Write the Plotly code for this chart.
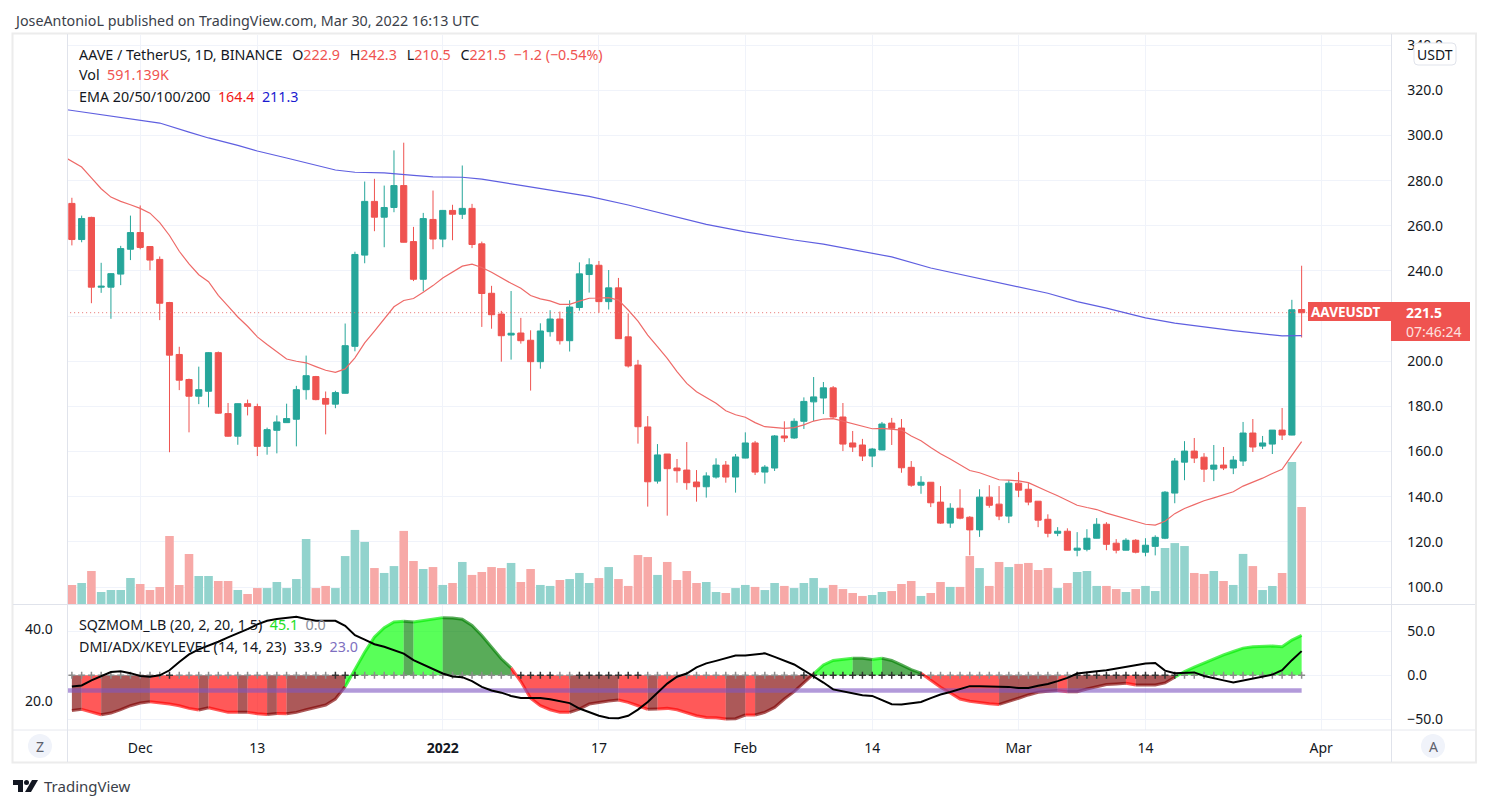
import pandas as pd
import plotly.graph_objects as go

start_date = "2021-11-24"
opens = [269.9,253.9,263.7,232.8,232.8,238.6,249.6,257,250.8,245.1,226,203,191.9,184.5,186.7,203.8,176.8,166.8,181.2,179.9,162.3,169.4,172.8,174.3,187.4,193.2,183.5,181,185.8,206.6,247,270.8,263.8,268.1,277.8,253,236.3,262.8,254.1,266.8,265.1,267.7,252,
230.1,220.9,211.6,212.5,209.3,199.8,213.1,218.7,209.1,223.8,238.4,242.5,226.4,232.5,210.8,198.3,170.9,146.9,158.9,152.7,151.8,146.5,144.4,148.7,154,148.7,157.1,163.8,150.9,152.7,166.9,166,173.4,182,183.7,188.2,175.3,163.8,162.9,158,160.7,
172.6,170.4,153,145.1,146.4,137.6,128.3,134.9,130.9,125.3,139.8,136.7,131.4,146,143.3,138,130,123.8,124.7,116.3,116.7,121.6,127.8,119.4,116.3,120.7,115.4,118,121.6,141.6,155.3,160.2,157.5,152.2,154,152.7,155.8,168.2,162.4,163.3,169.5,167.3,222.9]
highs = [272.4,264.5,264,243.6,239,251.1,264.5,269,251,246.4,226.3,206.4,192.3,197.6,204,204.3,181.5,181.3,183,181.2,170.6,176,181.2,189.1,202.5,193.5,186.6,186.9,216.7,248.5,279.6,280.8,277.8,293.4,296.8,259.5,265.7,275.6,267,269.3,286.7,269.7,253,
233.4,222.3,231.1,219.2,213.7,216.8,222.6,222,227,243.8,245.6,244.4,240.4,236.9,221.2,200.6,175.7,163.3,158.9,156.7,164.2,151.8,150.8,157,155.8,158.9,168.5,164.7,154,167.3,173.4,174.7,184,193,190.8,189,181.5,169.1,165.6,161.6,173.1,
174.9,174.4,155.8,149.1,146.5,144.7,137.1,143.3,131.4,143.3,145.1,144.7,147.3,150.9,146,138,132.2,126.5,126,124.3,125.6,130.5,128.7,121.2,121.6,121.2,121.6,122.9,142.5,157.1,164.6,166,159.3,162.9,162,158,173.1,174.4,166.9,169.5,179.3,227.2,242.3]
lows = [251.3,252.7,225.7,230.3,218.8,233.7,244.8,249.6,240.3,218.2,159.7,187.2,168.5,181,179.6,176.8,166.6,163,176,158,158.6,159.2,172.7,162.3,183,182.7,167.6,179.2,185.7,204.4,243.4,257.6,250.5,266,252.6,235.5,231,249.6,250.5,253.6,263,250.1,215.2,
214.4,199.8,200.7,207.8,187,196.7,210.9,207.4,204.3,222.4,230.4,221.5,222.9,209.9,197.2,163.5,135.6,145.8,131.6,146.2,143.1,137.8,139.6,148,146.2,141.8,157,149.6,145.8,151.4,164.2,165.6,170,173.5,176.6,174.9,160.2,159.8,155.8,153.1,160.6,
162.9,150.6,144.4,141.3,135.4,128,126.2,130,114,122.2,135.1,129.6,128.3,139.8,136.2,126.5,122,122.5,116.2,113.6,115.8,121.5,116.3,114.9,116.2,114.9,113.6,114,121.2,137.1,147.3,154.9,146.5,146.9,151.8,150,153.6,159.8,161.1,158.9,165.1,167.2,210.5]
closes = [253.9,263.2,232.8,233.2,238.8,249.9,257,250.4,244.8,225.7,202.7,191.6,184.5,187.4,203.8,177,166.8,181.2,180,162.3,169.7,173.1,174.6,187.4,193.6,183,181,186.1,206.9,247.3,270.8,263.8,268.1,277.8,252.7,236.3,263.2,254.1,266.8,265.1,267.7,251.7,230,
220.6,211.3,212.4,209.1,199.8,213.4,218.7,209.1,224,238.7,242.7,226.4,232.5,210,197.9,171,146.6,158.5,152.4,151.5,146.2,144.4,149.2,154,148.7,157.6,163.8,150.9,153.1,166.9,166,173.4,182.2,184.2,188.2,175.3,163.3,162,158,161.1,172.2,
170.3,152.8,145.1,146.4,137.3,128.3,134.9,130.5,125.3,139.8,136.2,131.4,146,142.9,137.6,129.6,123.8,124.7,116.3,117.2,121.6,127.8,118.9,116.3,120.7,115.4,118.5,122,142,155.8,160.2,157.1,152.2,154,152.7,156.2,168.2,162,163.8,169.5,167.3,222.8,221.5]
volume_k = [116,128,201,73,85,85,158,122,85,104,414,116,305,171,171,140,140,85,61,97,97,134,97,152,396,97,110,97,292,451,378,219,189,231,445,262,213,225,116,128,256,177,
195,225,219,250,134,213,116,110,146,152,189,128,158,225,152,110,298,286,177,256,146,201,128,134,73,67,97,116,104,85,128,110,97,128,158,97,116,91,67,49,55,73,
79,122,140,49,67,134,104,104,292,219,110,256,225,244,250,207,219,97,128,195,201,110,110,91,73,91,110,79,341,371,353,189,183,201,140,116,305,231,85,110,189,865,591]
# EMA 20: first value is the day before the first candle
ema20 = [291.1,288.6,286,281.2,276.4,272.7,270.8,269.3,267.7,265.6,261.4,255.7,248.7,243.1,238.3,235.2,229.2,224.4,219.6,215.5,210.8,207.4,204.1,201,200,199.3,197.6,196,195.1,196.6,201.5,208.1,213.3,218.8,224.1,226.9,227.8,230.6,233.5,236.9,239.4,242.1,243,241.5,
239.4,236.9,234.5,232.3,229.1,227.6,226.7,225.2,225.2,226.6,227.9,228,228.2,227.1,222.7,217.8,211.6,206.5,201.3,195.4,190.2,186.5,183.9,181.4,178.1,176.3,175.2,172.8,171,170.6,170.3,170.6,171.8,173.5,174.4,174.6,173.5,172.2,171.1,170.1,170.3,
170,169.5,166.9,164.8,161.8,159,156.7,154.3,151.6,150.6,149.1,147.5,147.3,147,146.2,144.1,142.3,140.4,138.2,136.2,135.2,134.3,132.7,131.4,130.2,129,127.8,127.4,129.1,132.5,134.8,136.5,138.2,139.5,140.8,142.2,144.7,146.4,148.2,150.3,152.1,158.3,164.4]
# EMA 200 read at these day offsets from the day before the first candle
ema200_day = [0,5,10,13,15,18,20,23,26,28,30,33,36,38,41,43,47,50,54,58,62,66,70,75,78,85,89,93,97,101,104,107,111,114,120,125,127]
ema200 = [311.7,308.6,305.5,301.5,298.9,295.6,293.1,290,286.9,284.7,283.7,283.4,282.3,281.7,281.5,280.7,277.9,275.9,273,269.2,265,260.6,257.3,253.7,251.9,246.2,241.3,237.5,233.8,230.1,226.4,223.5,219.2,216.9,213.6,211.2,211.3]
momentum = [-39.8,-38.6,-42,-44.7,-42.8,-39,-34.5,-31.4,-29.9,-31,-32.6,-34.5,-37.5,-39.4,-36.7,-39,-42,-42,-42,-43.6,-44.3,-43.2,-43.6,-42,-39,-36.7,-33.7,-26.9,-12.9,7.2,26.1,43.2,53.8,60.2,61,60.2,62.1,64,65.2,64.8,63.3,56.4,45,31.8,18.6,8.3,
-7.2,-26,-34.5,-39,-42,-42,-38.3,-32.6,-30.7,-29.2,-28,-30.7,-34.5,-38.6,-38.3,-37.5,-39,-42.8,-45.8,-47.7,-48.1,-49.6,-49.2,-45,-45,-42,-36.4,-26.9,-18.6,-8.7,1.5,11.7,16.7,17.8,19.3,19.3,17.8,19.3,16.7,11.7,6.4,2.3,
-6,-13.6,-20,-26.9,-29.5,-31,-32.2,-33,-29.9,-26,-22.3,-19.3,-18.2,-17.4,-18.6,-18.6,-15.5,-12.9,-10.6,-9.8,-9.1,-11,-11,-11,-8.7,-2.3,4.2,9.1,14,18.6,23,26.9,30.7,32.2,33,33,32.2,39.8,45.1]
mom_state_names = ["R","M","R","M","R","M","R","M","R","M","R","M","L","G","L","G","R","M","R","M","R","M","R","M","L","G","L","G","R","M","R","M","R","M","L"]
mom_state_runs = [1,1,2,5,5,1,3,1,2,1,1,6,6,1,3,7,6,5,3,1,7,2,1,6,4,2,1,4,8,6,1,6,1,4,13]
adx = [24.1,24.4,25.8,26.9,28.1,28.3,27.8,27,26.8,27.2,28.6,30.9,33,34.4,35.4,36.5,37.7,38.8,40,41.3,42.3,42.8,43.2,43.4,42.8,42.3,42.3,42.3,40.9,38.3,37.1,35.8,35.1,34.2,33.2,31.4,30.2,29.1,27.7,26.9,26.7,25.6,24,23,22.4,21.5,
20.9,20.9,20.9,20.6,20.1,19.5,18,16.9,16,15.4,15.3,16,17.7,19.8,22.4,24.9,26.8,27.7,29.4,30.5,31.2,31.9,32.7,32.7,33,33.3,32.3,31.2,30.2,28.6,27,25.2,23.3,22.8,22.1,21.7,21.5,20.3,19.2,19.1,19.4,19.8,
20.9,21.9,22.6,23.3,24.2,24.2,24.1,24.2,24,23.7,23.7,24.3,24.8,25.6,26.5,27.7,28.1,28.3,28.6,29.1,29.4,30,30.5,30.6,28.5,27.8,28,28,27,26.5,25.8,25.2,25.7,26.3,26.9,27.4,28.6,31.4,33.9]
key_level = 23
squeeze_flags = [0,1,0,1,0,1,0,1,0,1,0,1,0]
squeeze_runs = [10,1,16,3,16,4,2,7,16,13,15,11,13]
last_close = 221.5
x_tick_dates = ["2021-12-01","2021-12-13","2022-01-01","2022-01-17","2022-02-01","2022-02-14","2022-03-01","2022-03-14","2022-04-01"]
x_tick_text = ["Dec","13","<b>2022</b>","17","Feb","14","Mar","14","Apr"]
price_ticks = [100,120,140,160,180,200,220,240,260,280,300,320,340]
price_tick_text = ["100.0","120.0","140.0","160.0","180.0","200.0","","240.0","260.0","280.0","300.0","320.0","340.0"]
mom_ticks = [-50,0,50]
mom_tick_text = ["\u221250.0","0.0","50.0"]
adx_ticks = [20,40]
adx_tick_text = ["20.0","40.0"]

W, H = 1489, 808
px = lambda v: v / W
py = lambda v: 1 - v / H
GREEN, RED = "#26a69a", "#ef5350"
TXT = "#131722"
FONT = "Noto Sans"
SP = "&nbsp;&nbsp;"
WSP = "&nbsp;&nbsp;&#8201;"

dates = pd.date_range(start_date, periods=127, freq="D")
prev_dates = pd.date_range("2021-11-23", periods=128, freq="D")
ups = [c >= o for o, c in zip(opens, closes)]
fig = go.Figure()

# Volume sits on the lower overlay so candles draw on top
fig.add_bar(x=dates, y=volume_k, yaxis="y",
            marker=dict(color=["#92d3cd" if u else "#f7a9a7" for u in ups], line_width=0))
fig.add_candlestick(x=dates, open=opens, high=highs, low=lows, close=closes, yaxis="y2",
                    increasing=dict(line=dict(color=GREEN, width=1), fillcolor=GREEN),
                    decreasing=dict(line=dict(color=RED, width=1), fillcolor=RED),
                    whiskerwidth=0)
fig.add_scatter(x=[prev_dates[0], "2022-04-08"], y=[last_close, last_close], yaxis="y2", mode="lines",
                line=dict(color="#e8706e", width=1, dash="1px,3px"))
fig.add_scatter(x=prev_dates, y=ema20, yaxis="y2", mode="lines", line=dict(color="#ee6a68", width=1.2))
fig.add_scatter(x=[prev_dates[d] for d in ema200_day], y=ema200, yaxis="y2", mode="lines",
                line=dict(color="#5f5fe0", width=1.2))

# Squeeze momentum area, one trace per colour run
styles = {"R": ("rgba(255,0,0,0.65)", "rgba(255,0,0,0.65)"),
          "M": ("rgba(128,0,0,0.65)", "rgba(128,0,0,0.65)"),
          "L": ("rgba(0,255,0,0.65)", "rgba(0,235,0,0.65)"),
          "G": ("rgba(0,128,0,0.65)", "rgba(0,128,0,0.65)")}
pos = 0
for name, run in zip(mom_state_names, mom_state_runs):
    first = max(pos - 1, 0)
    last = pos + run
    fig.add_scatter(x=dates[first:last], y=momentum[first:last], yaxis="y3", mode="lines", fill="tozeroy",
                    fillcolor=styles[name][0], line=dict(color=styles[name][1], width=3))
    pos = last

fig.add_scatter(x=[dates[0] - pd.Timedelta(days=1), dates[-1]], y=[key_level, key_level], yaxis="y4", mode="lines",
                line=dict(color="rgba(126,87,194,0.6)", width=4.5))
flags = [f for f, r in zip(squeeze_flags, squeeze_runs) for _ in range(r)]
fig.add_scatter(x=dates, y=[0] * 127, yaxis="y3", mode="markers",
                marker=dict(symbol="cross-thin", size=5,
                            line=dict(width=1.5, color=["#333333" if f else "#8c8c8c" for f in flags])))
fig.add_scatter(x=dates, y=adx, yaxis="y4", mode="lines", line=dict(color="#000000", width=2))

GRID = "#f0f3fa"
TOP_DOM = [py(604), py(35)]
BOT_DOM = [py(729.5), py(605)]
TICK = dict(size=14, color=TXT)
fig.update_layout(
    width=W, height=H, margin=dict(l=0, r=0, t=0, b=0), autosize=False,
    paper_bgcolor="white", plot_bgcolor="white", showlegend=False, hovermode=False,
    bargap=0.12, boxgap=0.1, font=dict(family=FONT, size=14, color=TXT),
    xaxis=dict(domain=[px(67.5), px(1391.5)], type="date", anchor="y3",
               range=[dates[0] - pd.Timedelta(hours=10.8), pd.Timestamp("2022-04-08 05:00")],
               tickvals=x_tick_dates, ticktext=x_tick_text, tickmode="array",
               showgrid=True, gridcolor=GRID, gridwidth=1, zeroline=False,
               ticks="outside", ticklen=6, tickcolor="rgba(0,0,0,0)", tickfont=TICK,
               rangeslider=dict(visible=False), showline=False),
    yaxis=dict(domain=TOP_DOM, range=[0, 3465], visible=False, anchor="x"),
    yaxis2=dict(domain=TOP_DOM, overlaying="y", side="right", anchor="x", range=[92.47, 344.5],
                tickvals=price_ticks, ticktext=price_tick_text, tickmode="array",
                showgrid=True, gridcolor=GRID, zeroline=False,
                ticks="outside", ticklen=12, tickcolor="rgba(0,0,0,0)", tickfont=TICK),
    yaxis3=dict(domain=BOT_DOM, side="right", anchor="x", range=[-61.4, 79.5],
                tickvals=mom_ticks, ticktext=mom_tick_text, tickmode="array",
                showgrid=True, gridcolor=GRID, zeroline=False,
                ticks="outside", ticklen=12, tickcolor="rgba(0,0,0,0)", tickfont=TICK),
    yaxis4=dict(domain=BOT_DOM, side="left", anchor="x", overlaying="y3", range=[12.2, 46.67],
                tickvals=adx_ticks, ticktext=adx_tick_text, tickmode="array",
                showgrid=False, zeroline=False,
                ticks="outside", ticklen=11, tickcolor="rgba(0,0,0,0)", tickfont=TICK),
)


def rrect(x0, y0, x1, y1, r):
    a, b, c, d = px(x0), py(y0), px(x1), py(y1)
    rx, ry = r / W, r / H
    return (f"M{a+rx},{b} L{c-rx},{b} Q{c},{b} {c},{b-ry} L{c},{d+ry} Q{c},{d} {c-rx},{d} "
            f"L{a+rx},{d} Q{a},{d} {a},{d+ry} L{a},{b-ry} Q{a},{b} {a+rx},{b} Z")


def rect(x0, y0, x1, y1, fill=None, line=None, lw=1, layer="above"):
    return dict(type="rect", xref="paper", yref="paper", x0=px(x0), x1=px(x1), y0=py(y0), y1=py(y1),
                fillcolor=fill or "rgba(0,0,0,0)", line=dict(color=line or "rgba(0,0,0,0)", width=lw if line else 0), layer=layer)


def hline(y, x0, x1, c="#e0e3eb", w=1):
    return dict(type="line", xref="paper", yref="paper", x0=px(x0), x1=px(x1), y0=py(y), y1=py(y), line=dict(color=c, width=w))


def vline(x, y0, y1, c="#e0e3eb", w=1):
    return dict(type="line", xref="paper", yref="paper", x0=px(x), x1=px(x), y0=py(y0), y1=py(y1), line=dict(color=c, width=w))


def circle(cx, cy, r, fill):
    return dict(type="circle", xref="paper", yref="paper", x0=px(cx - r), x1=px(cx + r), y0=py(cy - r), y1=py(cy + r),
                fillcolor=fill, line=dict(width=0))


shapes = [
    rect(12.5, 33.5, 1476, 762.5, line="#ececec", lw=2, layer="below"),
    hline(604.5, 13, 1475), hline(730, 13, 1475, "#e6e8ee"),
    vline(67.5, 34, 762), vline(1391.5, 34, 762),
    circle(40, 746, 12, "#f0f3fa"), circle(1433, 746, 12, "#f0f3fa"),
    dict(type="path", xref="paper", yref="paper", path=rrect(1414, 43, 1456, 65, 4), fillcolor="white",
         line=dict(color="#e0e3eb", width=1)),
    rect(1308, 302, 1392, 321, fill=RED), rect(1391, 302, 1470, 341, fill=RED),
    # TradingView mark
    dict(type="path", xref="paper", yref="paper", line=dict(width=0), fillcolor="#131722",
         path=f"M{px(13)},{py(780)} L{px(23)},{py(780)} L{px(23)},{py(792)} L{px(18)},{py(792)} L{px(18)},{py(785)} L{px(13)},{py(785)} Z"),
    circle(26.5, 782.5, 2.5, "#131722"),
    dict(type="path", xref="paper", yref="paper", line=dict(width=0), fillcolor="#131722",
         path=f"M{px(32)},{py(780)} L{px(38)},{py(780)} L{px(31)},{py(792)} L{px(25)},{py(792)} Z"),
]
fig.update_layout(shapes=shapes)


def note(x, y, text, size=14.3, color=TXT, anchor="left"):
    fig.add_annotation(xref="paper", yref="paper", x=px(x), y=py(y), text=text, showarrow=False,
                       xanchor=anchor, yanchor="middle", align=anchor, borderpad=0,
                       font=dict(family=FONT, size=size, color=color))


def col(t, c):
    return f'<span style="color:{c}">{t}</span>'


note(13, 20, "JoseAntonioL published on TradingView.com, Mar 30, 2022 16:13 UTC", color="#3b3f4a")
note(78, 54, "AAVE / TetherUS, 1D, BINANCE" + WSP + "O" + col("222.9", RED) + WSP + "H" + col("242.3", RED) + WSP + "L" + col("210.5", RED)
     + WSP + "C" + col("221.5", RED) + SP + col("\u22121.2&nbsp;(\u22120.54%)", RED))
note(78, 75, "Vol" + SP + col("591.139K", RED))
note(78, 96, "EMA 20/50/100/200" + SP + col("164.4", "#f01818") + SP + col("211.3", "#1a1ad0"))
note(78, 624, "SQZMOM_LB (20, 2, 20, 1.5)" + SP + col("45.1", "#22e022") + SP + col("0.0", "#8a8e99"))
note(78, 646, "DMI/ADX/KEYLEVEL (14, 14, 23)" + SP + "33.9" + SP + col("23.0", "#7e6fc0"))
note(1435, 54, "USDT", size=14, anchor="center")
note(1346, 312, "<b>AAVEUSDT</b>", size=13.5, color="white", anchor="center")
note(1405, 312, "<b>221.5</b>", size=14, color="white")
note(1405, 331, "07:46:24", size=14, color="#fde0df")
note(40, 746, "Z", size=14, color="#5d606b", anchor="center")
note(1433, 746, "A", size=14, color="#5d606b", anchor="center")
note(43, 786, "TradingView", size=15, color="#3b3f4a")

fig.write_html("out.html", post_script="document.body.style.margin='0';", config={"displayModeBar": False})
